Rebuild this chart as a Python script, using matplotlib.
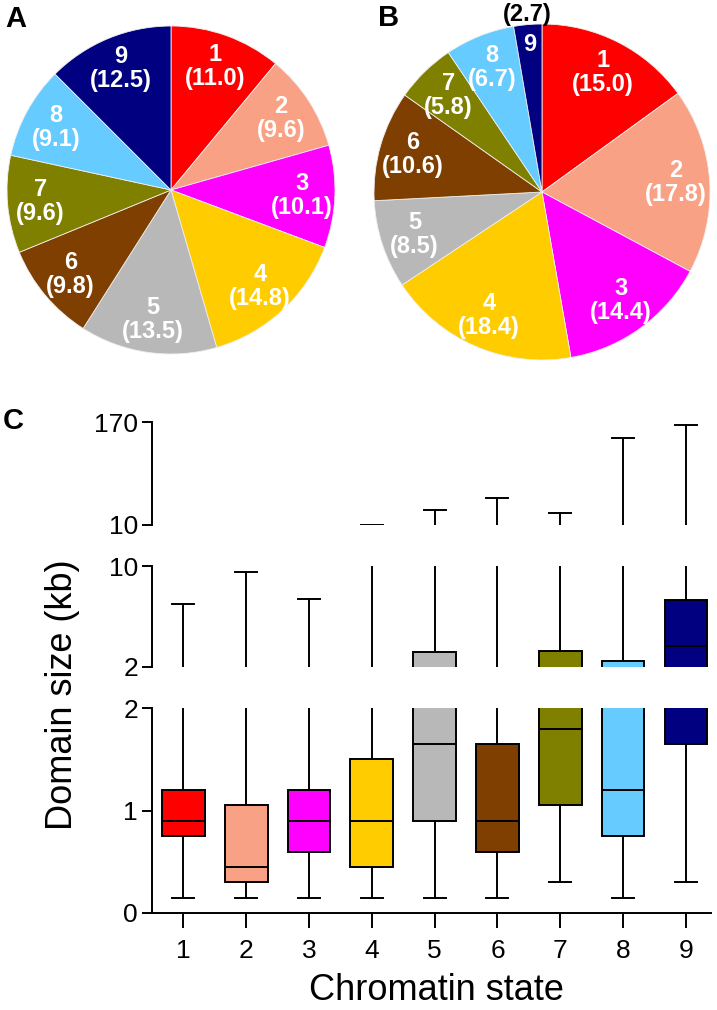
import matplotlib
matplotlib.use('Agg')
from matplotlib import pyplot as plt
import numpy as np

plt.rcParams['font.family'] = ['Liberation Sans', 'DejaVu Sans']

states = ['1', '2', '3', '4', '5', '6', '7', '8', '9']
colors = ['#ff0000', '#f9a185', '#ff00ff', '#ffcc00', '#b8b8b8',
          '#7f3f00', '#808000', '#66ccff', '#000080']

# pie A / pie B percentages
pct_a = [11.0, 9.6, 10.1, 14.8, 13.5, 9.8, 9.6, 9.1, 12.5]
pct_b = [15.0, 17.8, 14.4, 18.4, 8.5, 10.6, 5.8, 6.7, 2.7]

# box plot stats, domain size in kb
whis_lo = [0.15, 0.15, 0.15, 0.15, 0.15, 0.15, 0.30, 0.15, 0.30]
q1 = [0.75, 0.30, 0.60, 0.45, 0.90, 0.60, 1.05, 0.75, 1.65]
med = [0.90, 0.45, 0.90, 0.90, 1.65, 0.90, 1.80, 1.20, 3.7]
q3 = [1.20, 1.05, 1.20, 1.50, 3.2, 1.65, 3.3, 2.5, 7.3]
whis_hi = [7.0, 9.5, 7.4, 10.4, 34, 52, 28, 145, 166]

W, H = 717, 1010
fig = plt.figure(figsize=(W / 100, H / 100), dpi=100)


def px_rect(x0, y0, x1, y1):
    return [x0 / W, 1 - y1 / H, (x1 - x0) / W, (y1 - y0) / H]


def draw_pie(rect, vals, small_last=False):
    ax = fig.add_axes(rect)
    wedges, _ = ax.pie(vals, colors=colors, startangle=90, counterclock=False,
                       radius=1, wedgeprops=dict(edgecolor='#eeeeee', linewidth=0.6))
    ax.set_xlim(-1, 1)
    ax.set_ylim(-1, 1)
    ax.set_aspect('equal')
    ax.axis('off')
    for i, (w, v, s) in enumerate(zip(wedges, vals, states)):
        ang = np.deg2rad((w.theta1 + w.theta2) / 2)
        if small_last and i == len(vals) - 1:
            ax.text(0.88 * np.cos(ang), 0.88 * np.sin(ang), s, color='white',
                    fontsize=17, fontweight='bold', ha='center', va='center')
            ax.text(1.06 * np.cos(ang), 1.06 * np.sin(ang), '(%.1f)' % v,
                    color='black', fontsize=17, fontweight='bold',
                    ha='center', va='center')
            continue
        r = 0.8
        ax.text(r * np.cos(ang), r * np.sin(ang), '%s\n(%.1f)' % (s, v),
                color='white', fontsize=17, fontweight='bold',
                ha='center', va='center', linespacing=1.05)
    return ax


draw_pie(px_rect(7, 26, 335, 354), pct_a)
draw_pie(px_rect(374, 24, 710, 360), pct_b, small_last=True)

fig.text(5 / W, 1 - 19 / H, 'A', fontsize=21, fontweight='bold', va='center')
fig.text(378 / W, 1 - 18 / H, 'B', fontsize=21, fontweight='bold', va='center')
fig.text(3 / W, 1 - 421 / H, 'C', fontsize=21, fontweight='bold', va='center')

# broken axis box plot
ax_top = fig.add_axes(px_rect(152, 422, 711, 525))
ax_mid = fig.add_axes(px_rect(152, 566, 711, 667))
ax_bot = fig.add_axes(px_rect(152, 708, 711, 913))

lw = 1.4
for ax, lim, ticks in [(ax_top, (10, 170), [10, 170]),
                       (ax_mid, (2, 10), [2, 10]),
                       (ax_bot, (0, 2), [0, 1, 2])]:
    stats, pos, cols = [], [], []
    for i in range(9):
        if whis_hi[i] <= lim[0] or whis_lo[i] >= lim[1]:
            continue
        stats.append(dict(whislo=whis_lo[i], q1=q1[i], med=med[i], q3=q3[i],
                          whishi=whis_hi[i], fliers=[]))
        pos.append(i + 1)
        cols.append(colors[i])
    bp = ax.bxp(stats, positions=pos, widths=0.68, capwidths=0.35,
                patch_artist=True, showfliers=False,
                boxprops=dict(edgecolor='black', linewidth=lw),
                medianprops=dict(color='black', linewidth=lw),
                whiskerprops=dict(color='black', linewidth=lw),
                capprops=dict(color='black', linewidth=lw))
    for patch, c in zip(bp['boxes'], cols):
        patch.set_facecolor(c)
    ax.set_ylim(*lim)
    ax.set_xlim(0.5, 9.4)
    ax.set_yticks(ticks)
    ax.set_yticklabels([str(t) for t in ticks])
    ax.spines['top'].set_visible(False)
    ax.spines['right'].set_visible(False)
    ax.spines['left'].set_linewidth(lw)
    ax.tick_params(axis='y', direction='out', length=7, width=lw,
                   labelsize=19, pad=3)
    if ax is ax_bot:
        ax.spines['bottom'].set_linewidth(lw)
        ax.set_xticks(range(1, 10))
        ax.set_xticklabels(states)
        ax.tick_params(axis='x', direction='out', length=11, width=lw,
                       labelsize=19, pad=8)
    else:
        ax.spines['bottom'].set_visible(False)
        ax.set_xticks([])

fig.text(62 / W, 1 - 695 / H, 'Domain size (kb)', rotation=90, fontsize=26,
         ha='center', va='center')
fig.text(436 / W, 1 - 990 / H, 'Chromatin state', fontsize=26,
         ha='center', va='center')

plt.savefig('out.png', dpi=100)
